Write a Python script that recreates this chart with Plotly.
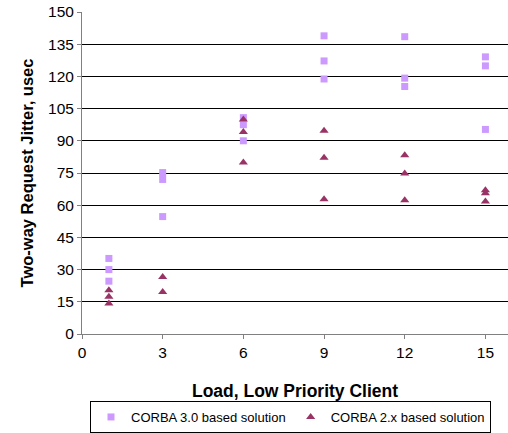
import plotly.graph_objects as go

# Data
corba3_x = [1, 1, 1, 3, 3, 3, 6, 6, 6, 9, 9, 9, 12, 12, 12, 15, 15, 15]
corba3_y = [35.2, 30.0, 24.6, 75.2, 72.0, 54.7, 100.8, 97.5, 90.0,
            138.9, 127.2, 118.8, 138.5, 119.2, 115.3, 129.1, 124.9, 95.3]
corba2_x = [1, 1, 1, 3, 3, 6, 6, 6, 9, 9, 9, 12, 12, 12, 15, 15, 15]
corba2_y = [20.4, 17.3, 14.2, 26.5, 19.6, 99.9, 94.1, 79.9,
            94.7, 82.1, 62.8, 83.3, 74.8, 62.3, 67.0, 65.6, 61.7]
x_ticks = [0, 3, 6, 9, 12, 15]
y_ticks = list(range(0, 151, 15))

FONT = "Liberation Sans, Arial, sans-serif"

fig = go.Figure()
fig.add_trace(go.Scatter(
    x=corba3_x, y=corba3_y, mode="markers", name="CORBA 3.0 based solution",
    marker=dict(symbol="square", size=7, color="#CC99FF", line=dict(width=0)),
))
fig.add_trace(go.Scatter(
    x=corba2_x, y=corba2_y, mode="markers", name="CORBA 2.x based solution",
    marker=dict(symbol="triangle-up", size=8, color="#993366", line=dict(width=0)),
))

fig.update_layout(
    width=508, height=433,
    margin=dict(l=82, r=0, t=12, b=99, autoexpand=False),
    paper_bgcolor="white", plot_bgcolor="white",
    font=dict(family=FONT, size=16, color="black"),
    showlegend=True,
    legend=dict(
        orientation="h", xref="container", yref="container",
        x=90 / 508, y=1 - 401 / 433, xanchor="left", yanchor="top",
        bordercolor="black", borderwidth=1, bgcolor="white",
        font=dict(family=FONT, size=13, color="black"),
        itemwidth=30, tracegroupgap=0,
    ),
    xaxis=dict(
        range=[0, 15.84], tickvals=x_ticks, ticktext=[str(v) for v in x_ticks],
        showgrid=False, zeroline=False, automargin=False,
        showline=True, linecolor="#808080", linewidth=1,
        ticks="outside", ticklen=4, tickcolor="#808080",
        tickfont=dict(size=15.5),
        title=dict(text="<b>Load, Low Priority Client</b>", font=dict(size=17.5), standoff=25),
        fixedrange=True,
    ),
    yaxis=dict(
        range=[0, 150], tickvals=y_ticks, ticktext=[str(v) for v in y_ticks],
        showgrid=True, gridcolor="black", gridwidth=1, zeroline=False, automargin=False,
        showline=True, linecolor="#808080", linewidth=1,
        ticks="outside", ticklen=4, tickcolor="#808080",
        tickfont=dict(size=15.5),
        title=dict(text="<b>Two-way Request Jitter, usec</b>", font=dict(size=16.5), standoff=10),
        fixedrange=True,
    ),
)

fig.write_html("out.html")
